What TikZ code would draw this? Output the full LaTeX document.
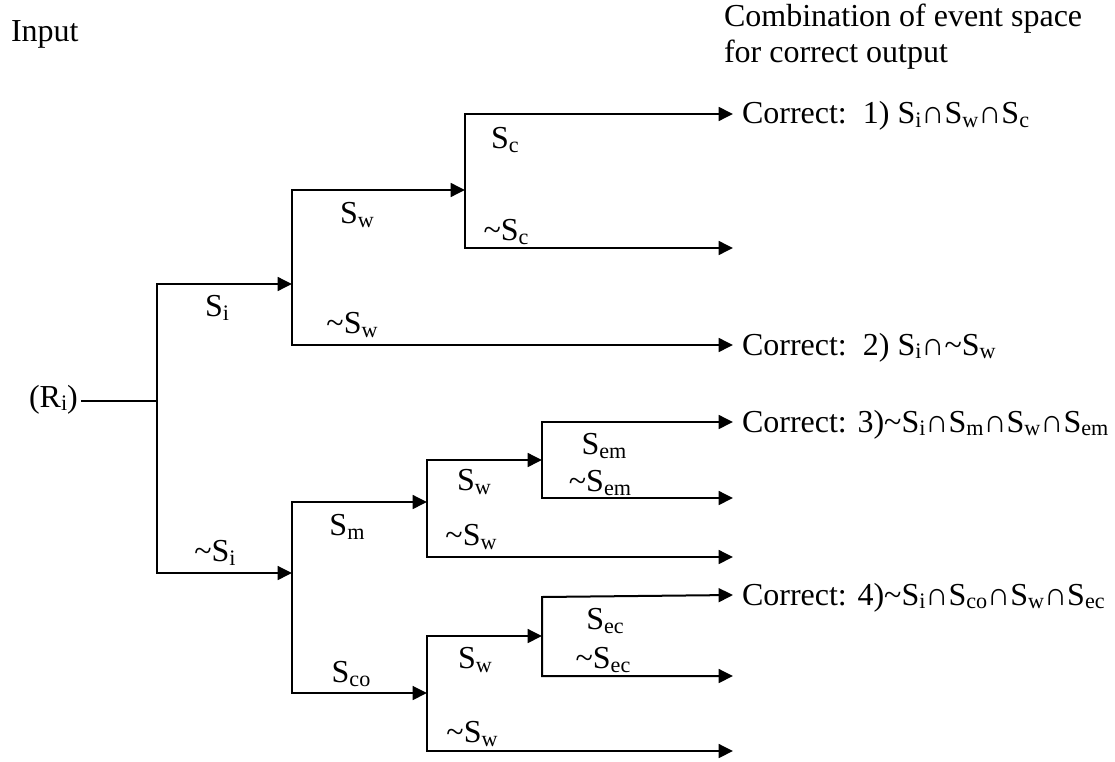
\documentclass[tikz,border=0pt]{standalone}
\usepackage{fontspec}
\setmainfont{Liberation Serif}
\usetikzlibrary{arrows.meta}
\newcommand{\sbx}[1]{\raisebox{-1.3pt}{\fontsize{8.3}{8.3}\selectfont #1}}
\newcommand{\tld}{\textasciitilde}
\begin{document}
\begin{tikzpicture}[x=0.375pt,y=-0.375pt, line width=0.75pt,
  br/.style={{Triangle[length=5.4pt,width=5.2pt]}-{Triangle[length=5.4pt,width=5.2pt]}},
  lbl/.style={inner sep=0pt, font=\fontsize{12}{14}\selectfont},
  txt/.style={inner sep=0pt, anchor=base west, font=\fontsize{12}{14}\selectfont}]
\useasboundingbox (0,0) rectangle (1115,762);
% junction coordinates
\coordinate (R0) at (81,401); \coordinate (R) at (157,401);
\coordinate (Rt) at (157,284); \coordinate (Rb) at (157,573);
\coordinate (A) at (292,284); \coordinate (At) at (292,190); \coordinate (Ab) at (292,345);
\coordinate (B) at (465,190); \coordinate (Bt) at (465,114); \coordinate (Bb) at (465,248);
\coordinate (C) at (292,573); \coordinate (Ct) at (292,502); \coordinate (Cb) at (292,693);
\coordinate (D) at (427,502); \coordinate (Dt) at (427,460); \coordinate (Db) at (427,557);
\coordinate (E) at (542,460); \coordinate (Et) at (542,422); \coordinate (Eb) at (542,498);
\coordinate (F) at (427,693); \coordinate (Ft) at (427,636); \coordinate (Fb) at (427,751);
\coordinate (G) at (542,636); \coordinate (Gt) at (542,597); \coordinate (Gb) at (542,676);
% outcome ends
\coordinate (o1) at (733,114); \coordinate (o2) at (733,248); \coordinate (o3) at (733,345);
\coordinate (o4) at (733,422); \coordinate (o5) at (733,498); \coordinate (o6) at (733,557);
\coordinate (o7) at (733,595); \coordinate (o8) at (733,676); \coordinate (o9) at (733,751);
% texts
\node[txt] (in) at (10,42) {Input};
\node[txt] (ri) at (28,407) {(R\sbx{i})};
\node[txt] (h1) at (723,27) {Combination of event space};
\node[txt] (h2) at (723,63) {for correct output};
\node[txt] (c1) at (741,124) {Correct:\ \ 1) S\sbx{i}∩S\sbx{w}∩S\sbx{c}};
\node[txt] (c2) at (741,355) {Correct:\ \ 2) S\sbx{i}∩\tld S\sbx{w}};
\node[txt] (c3) at (741,432) {Correct: 3)\tld S\sbx{i}∩S\sbx{m}∩S\sbx{w}∩S\sbx{em}};
\node[txt] (c4) at (741,605) {Correct: 4)\tld S\sbx{i}∩S\sbx{co}∩S\sbx{w}∩S\sbx{ec}};
% connectors
\draw (R0) -- (R);
\draw[br] (A) -- (Rt) -- (Rb) -- (C);
\draw[br] (B) -- (At) -- (Ab) -- (o3);
\draw[br] (o1) -- (Bt) -- (Bb) -- (o2);
\draw[br] (D) -- (Ct) -- (Cb) -- (F);
\draw[br] (E) -- (Dt) -- (Db) -- (o6);
\draw[br] (o4) -- (Et) -- (Eb) -- (o5);
\draw[br] (G) -- (Ft) -- (Fb) -- (o9);
\draw[br] (o7) -- (Gt) -- (Gb) -- (o8);
% branch labels
\node[lbl] (l1) at (217,308) {S\sbx{i}};
\node[lbl] (l2) at (215,553) {\tld S\sbx{i}};
\node[lbl] (l3) at (357,215) {S\sbx{w}};
\node[lbl] (l4) at (352,325) {\tld S\sbx{w}};
\node[lbl] (l5) at (505,140) {S\sbx{c}};
\node[lbl] (l6) at (506,232) {\tld S\sbx{c}};
\node[lbl] (l7) at (347,527) {S\sbx{m}};
\node[lbl] (l8) at (351,674) {S\sbx{co}};
\node[lbl] (l9) at (474,482) {S\sbx{w}};
\node[lbl] (l10) at (471,537) {\tld S\sbx{w}};
\node[lbl] (l11) at (604,446) {S\sbx{em}};
\node[lbl] (l12) at (600,483) {\tld S\sbx{em}};
\node[lbl] (l13) at (475,660) {S\sbx{w}};
\node[lbl] (l14) at (472,734) {\tld S\sbx{w}};
\node[lbl] (l15) at (605,621) {S\sbx{ec}};
\node[lbl] (l16) at (603,660) {\tld S\sbx{ec}};
\end{tikzpicture}
\end{document}
